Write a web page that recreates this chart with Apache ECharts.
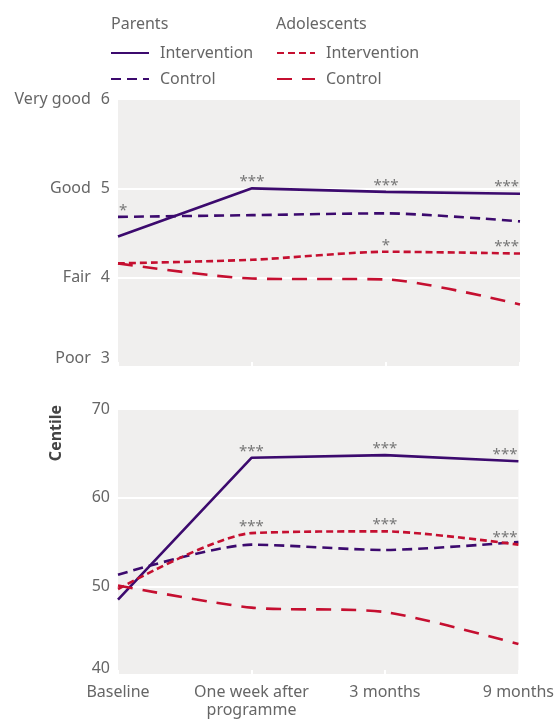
<!DOCTYPE html>
<html>
<head>
<meta charset="utf-8">
<script src="https://cdn.jsdelivr.net/npm/echarts@6/dist/echarts.min.js"></script>
<style>
html,body{margin:0;padding:0;background:#fff;}
#main{width:557px;height:719px;}
</style>
</head>
<body>
<div id="main"></div>
<script>
// ---- data ----
const categories = ['Baseline', 'One week after\nprogramme', '3 months', '9 months'];
const ratingNames = {3: 'Poor', 4: 'Fair', 5: 'Good', 6: 'Very good'};

// Top panel: self-rated (1-6 scale)
const parentsIntTop = [4.46, 5.00, 4.96, 4.94];
const parentsCtrlTop = [4.68, 4.70, 4.72, 4.63];
const adolIntTop = [4.16, 4.20, 4.29, 4.27];
const adolCtrlTop = [4.16, 3.99, 3.98, 3.70];
const parentsIntTopSig = ['', '***', '***', '***'];
const parentsCtrlTopSig = ['*', '', '', ''];
const adolIntTopSig = ['', '', '*', '***'];

// Bottom panel: centile
const parentsIntBot = [48.5, 64.5, 64.8, 64.1];
const parentsCtrlBot = [51.3, 54.7, 54.1, 55.0];
const adolIntBot = [49.7, 56.0, 56.2, 54.7];
const adolCtrlBot = [50.1, 47.6, 47.1, 43.5];
const parentsIntBotSig = ['', '***', '***', '***'];
const adolIntBotSig = ['', '***', '***', '***'];

// ---- styles ----
const PURPLE = '#3c0a6e';
const RED = '#c50f30';
const TXT = '#666';
const BG = '#f0efee';
const FONT = 'Noto Sans';

const styles = {
  'Parents|Intervention': {color: PURPLE, type: 'solid', smooth: false},
  'Parents|Control': {color: PURPLE, type: [10, 6], smooth: 0.25},
  'Adolescents|Intervention': {color: RED, type: [7, 4], smooth: 0.25},
  'Adolescents|Control': {color: RED, type: [15, 10], smooth: 0.25}
};

function sigPoints(values, sig) {
  const pts = [];
  if (!sig) return pts;
  values.forEach((v, i) => {
    const s = sig[i];
    if (!s) return;
    const last = i === values.length - 1;
    const first = i === 0;
    pts.push({
      coord: [i, v],
      symbol: 'circle', symbolSize: 0,
      label: {
        show: true, formatter: s, position: 'top', distance: 0,
        align: last ? 'right' : (first ? 'left' : 'center'),
        offset: [last ? -1 : (first ? 1 : 0), 1],
        color: '#777', fontSize: 15, fontFamily: FONT
      }
    });
  });
  return pts;
}

function mk(name, values, sig, idx) {
  const st = styles[name];
  return {
    name: name, type: 'line', xAxisIndex: idx, yAxisIndex: idx,
    data: values,
    symbol: 'none', smooth: st.smooth,
    lineStyle: {color: st.color, width: 2.6, type: st.type},
    itemStyle: {color: st.color},
    emphasis: {disabled: true},
    markPoint: {silent: true, animation: false, data: sigPoints(values, sig)},
    z: 3
  };
}

const chart = echarts.init(document.getElementById('main'), null, {renderer: 'canvas'});

const xAxisBase = {
  type: 'category', data: categories, boundaryGap: false,
  axisLine: {show: false},
  axisTick: {show: true, inside: true, length: 5, lineStyle: {color: '#fff', width: 2}},
  splitLine: {show: false}
};

function lowRich() {
  const base = {color: TXT, fontSize: 16, fontFamily: FONT};
  return {
    t: Object.assign({}, base),
    n: Object.assign({}, base, {padding: [0, 0, 0, 10]}),
    tl: Object.assign({}, base, {padding: [0, 0, 18, 0]}),
    nl: Object.assign({}, base, {padding: [0, 0, 18, 10]}),
    l: Object.assign({}, base, {padding: [0, 0, 14, 0]})
  };
}

const legendCommon = {
  orient: 'vertical', itemGap: 10, itemWidth: 38, itemHeight: 14, padding: 0,
  formatter: n => n.split('|')[1],
  textStyle: {color: TXT, fontSize: 16, fontFamily: FONT, padding: [0, 0, 0, 6]},
  itemStyle: {color: 'rgba(0,0,0,0)', borderColor: 'rgba(0,0,0,0)', borderWidth: 0},
  selectedMode: false
};

const option = {
  animation: false,
  textStyle: {fontFamily: FONT},
  grid: [
    {left: 118, right: 37, top: 99, height: 268, show: true, backgroundColor: BG, borderWidth: 0},
    {left: 118, right: 37, top: 409, height: 268, show: true, backgroundColor: BG, borderWidth: 0}
  ],
  xAxis: [
    Object.assign({}, xAxisBase, {gridIndex: 0, axisLabel: {show: false}}),
    Object.assign({}, xAxisBase, {gridIndex: 1,
      axisLabel: {show: true, color: TXT, fontSize: 16, fontFamily: FONT, margin: 8, lineHeight: 18,
        interval: 0, showMaxLabel: true, showMinLabel: true}})
  ],
  yAxis: [
    {type: 'value', gridIndex: 0, min: 3, max: 6, interval: 1,
      axisLine: {show: false}, axisTick: {show: false},
      splitLine: {show: true, lineStyle: {color: '#fff', width: 2}},
      axisLabel: {
        margin: 8, color: TXT, fontSize: 16, fontFamily: FONT,
        formatter: function (v) {
          if (v === 3) return '{tl|' + ratingNames[v] + '}{nl|' + v + '}';
          return '{t|' + ratingNames[v] + '}{n|' + v + '}';
        },
        rich: lowRich()
      }
    },
    {type: 'value', gridIndex: 1, min: 40, max: 70, interval: 10,
      axisLine: {show: false}, axisTick: {show: false},
      splitLine: {show: true, lineStyle: {color: '#fff', width: 2}},
      axisLabel: {margin: 8, color: TXT, fontSize: 16, fontFamily: FONT,
        formatter: function (v) { return v === 40 ? '{l|' + v + '}' : '{t|' + v + '}'; },
        rich: lowRich()
      }
    }
  ],
  legend: [
    Object.assign({}, legendCommon, {left: 110, top: 45, data: ['Parents|Intervention', 'Parents|Control']}),
    Object.assign({}, legendCommon, {left: 276, top: 45, data: ['Adolescents|Intervention', 'Adolescents|Control']})
  ],
  graphic: [
    {type: 'text', left: 111, top: 16, style: {text: 'Parents', fill: TXT, font: '16px "Noto Sans"'}},
    {type: 'text', left: 276, top: 16, style: {text: 'Adolescents', fill: TXT, font: '16px "Noto Sans"'}},
    {type: 'text', x: 56, y: 433, rotation: Math.PI / 2,
      style: {text: 'Centile', fill: '#444', font: 'bold 16px "Noto Sans"', textAlign: 'center', textVerticalAlign: 'middle'}}
  ],
  series: [
    mk('Parents|Intervention', parentsIntTop, parentsIntTopSig, 0),
    mk('Parents|Control', parentsCtrlTop, parentsCtrlTopSig, 0),
    mk('Adolescents|Intervention', adolIntTop, adolIntTopSig, 0),
    mk('Adolescents|Control', adolCtrlTop, null, 0),
    mk('Parents|Intervention', parentsIntBot, parentsIntBotSig, 1),
    mk('Parents|Control', parentsCtrlBot, null, 1),
    mk('Adolescents|Intervention', adolIntBot, adolIntBotSig, 1),
    mk('Adolescents|Control', adolCtrlBot, null, 1)
  ]
};
chart.setOption(option);
</script>
</body>
</html>
